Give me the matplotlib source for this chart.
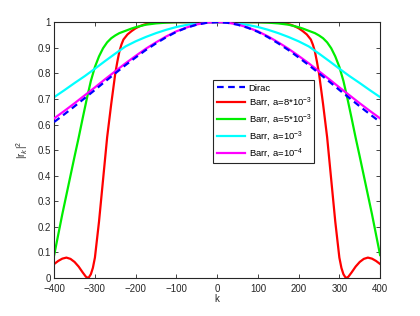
import numpy as np
import matplotlib.pyplot as plt

plt.rcParams['font.family'] = ['Liberation Sans', 'DejaVu Sans']
plt.rcParams['mathtext.fontset'] = 'custom'
plt.rcParams['mathtext.rm'] = 'Liberation Sans'

# values
k_coarse = [-400, -375, -350, -325, -300, -275, -250, -225, -200, -175, -150, -125, -100, -75, -50, -25,
            0, 25, 50, 75, 100, 125, 150, 175, 200, 225, 250, 275, 300, 325, 350, 375, 400]

dirac = [0.610, 0.640, 0.671, 0.703, 0.735, 0.768, 0.800, 0.832, 0.862, 0.891, 0.917, 0.941, 0.962, 0.978, 0.990, 0.9975,
         1.0, 0.9975, 0.990, 0.978, 0.962, 0.941, 0.917, 0.891, 0.862, 0.832, 0.800, 0.768, 0.735, 0.703, 0.671, 0.640, 0.610]

barr_1e4 = [0.624, 0.653, 0.683, 0.714, 0.745, 0.777, 0.808, 0.839, 0.868, 0.896, 0.921, 0.944, 0.964, 0.979, 0.991, 0.998,
            1.0, 0.998, 0.991, 0.979, 0.964, 0.944, 0.921, 0.896, 0.868, 0.839, 0.808, 0.777, 0.745, 0.714, 0.683, 0.653, 0.624]

barr_1e3 = [0.707, 0.734, 0.762, 0.789, 0.818, 0.848, 0.877, 0.905, 0.925, 0.942, 0.957, 0.970, 0.981, 0.989, 0.995, 0.999,
            1.0, 0.999, 0.995, 0.989, 0.981, 0.970, 0.957, 0.942, 0.925, 0.905, 0.877, 0.848, 0.818, 0.789, 0.762, 0.734, 0.707]

k_green = [-400, -390, -380, -370, -360, -350, -340, -330, -320, -310, -300, -290, -280, -270, -260, -250, -240, -230,
           -220, -210, -200, -175, -150, -125, -100, -50, 0, 50, 100, 125, 150, 175, 200, 210, 220, 230, 240, 250,
           260, 270, 280, 290, 300, 310, 320, 330, 340, 350, 360, 370, 380, 390, 400]
barr_5e3 = [0.09, 0.17, 0.25, 0.325, 0.40, 0.475, 0.548, 0.625, 0.70, 0.77, 0.825, 0.866, 0.898, 0.921, 0.937, 0.948,
            0.957, 0.963, 0.969, 0.975, 0.980, 0.990, 0.995, 0.998, 0.9995, 1.0, 1.0, 1.0, 0.9995, 0.998, 0.995, 0.990,
            0.980, 0.975, 0.969, 0.963, 0.957, 0.948, 0.937, 0.921, 0.898, 0.866, 0.825, 0.77, 0.70, 0.625, 0.548,
            0.475, 0.40, 0.325, 0.25, 0.17, 0.09]

k_red = [-400, -390, -380, -370, -360, -350, -340, -330, -322, -316, -310, -305, -300, -290, -280, -270, -260, -250,
         -245, -240, -235, -230, -220, -210, -200, -190, -180, -170, -160, -150, -100, 0, 100, 150, 160, 170, 180,
         190, 200, 210, 220, 230, 235, 240, 245, 250, 260, 270, 280, 290, 300, 305, 310, 316, 322, 330, 340, 350,
         360, 370, 380, 390, 400]
barr_8e3 = [0.055, 0.067, 0.076, 0.080, 0.075, 0.063, 0.045, 0.022, 0.005, 0.0, 0.015, 0.040, 0.080, 0.220, 0.385,
            0.550, 0.680, 0.800, 0.845, 0.885, 0.912, 0.932, 0.952, 0.965, 0.976, 0.984, 0.990, 0.994, 0.998, 0.999,
            1.0, 1.0, 1.0, 0.999, 0.998, 0.994, 0.990, 0.984, 0.976, 0.965, 0.952, 0.932, 0.912, 0.885, 0.845, 0.800,
            0.680, 0.550, 0.385, 0.220, 0.080, 0.040, 0.015, 0.0, 0.005, 0.022, 0.045, 0.063, 0.075, 0.080, 0.076,
            0.067, 0.055]

fig = plt.figure(figsize=(4.2, 3.16), dpi=100)
ax = fig.add_axes([0.129, 0.120, 0.776, 0.810])

ax.plot(k_coarse, dirac, color='#0000ff', lw=1.6, ls=(0, (3, 2)), label='Dirac', zorder=6)
ax.plot(k_red, barr_8e3, color='#ff0000', lw=1.6, label='Barr, a=8*10$^{-3}$')
ax.plot(k_green, barr_5e3, color='#00ee00', lw=1.6, label='Barr, a=5*10$^{-3}$')
ax.plot(k_coarse, barr_1e3, color='#00ffff', lw=1.6, label='Barr, a=10$^{-3}$')
ax.plot(k_coarse, barr_1e4, color='#ff00ff', lw=1.6, label='Barr, a=10$^{-4}$', zorder=5)

ax.set_xlim(-400, 400)
ax.set_ylim(0, 1)
ax.set_xticks(np.arange(-400, 401, 100))
ax.set_yticks(np.arange(0, 1.01, 0.1))
ax.set_xticklabels(['\u2212400', '\u2212300', '\u2212200', '\u2212100', '0', '100', '200', '300', '400'])
ax.set_yticklabels(['0', '0.1', '0.2', '0.3', '0.4', '0.5', '0.6', '0.7', '0.8', '0.9', '1'])
ax.tick_params(direction='in', top=True, right=True, labelsize=7, length=3, width=0.6,
               colors='#262626', pad=2.5)
ax.tick_params(axis='x', pad=4)
for s in ax.spines.values():
    s.set_linewidth(0.8)
    s.set_color('#262626')

ax.set_xlabel('k', fontsize=7, labelpad=0, color='#262626')
ax.set_ylabel('|r$_k$|$^2$', fontsize=7, labelpad=5, color='#262626')

leg = ax.legend(loc='lower left', bbox_to_anchor=(0.488, 0.449, 0.309, 0.317), mode='expand',
                fontsize=6.8, fancybox=False, framealpha=1, edgecolor='#262626',
                handlelength=3.0, handletextpad=0.4, borderpad=0.35, labelspacing=0.33,
                borderaxespad=0)
leg.get_frame().set_linewidth(0.8)

fig.savefig('out.png', dpi=100)
